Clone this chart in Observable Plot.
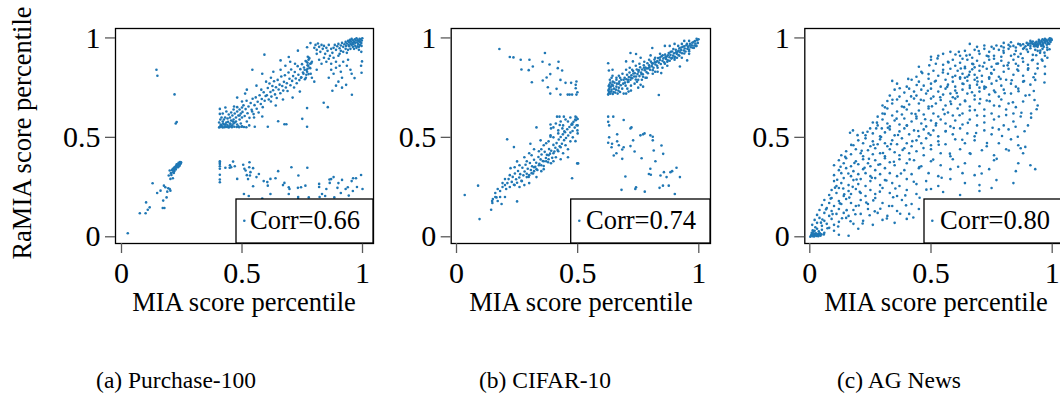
<!DOCTYPE html>
<html><head><meta charset="utf-8">
<script src="https://cdn.jsdelivr.net/npm/d3@7"></script>
<script src="https://cdn.jsdelivr.net/npm/@observablehq/plot@0.6"></script>
<style>
body{margin:0;background:#fff}
#wrap{position:relative;width:1060px;height:395px;overflow:hidden;background:#fff}
#wrap > div{position:absolute;top:0;height:395px}
#wrap svg{max-width:none !important}
#wrap text{font-family:"Liberation Serif","Times New Roman",serif}
</style></head><body><div id="wrap"></div>
<script>
// ---------- data ----------
const captions = ["(a) Purchase-100", "(b) CIFAR-10", "(c) AG News"];
const corrLabels = ["Corr=0.66", "Corr=0.74", "Corr=0.80"];
const xLabel = "MIA score percentile";
const yLabel = "RaMIA score percentile";
const tickValues = [0, 0.5, 1];
const tickLabels = ["0", "0.5", "1"];

// (a) Purchase-100 : [MIA percentile, RaMIA percentile]
const purchasePoints = [
[0.026,0.018],[0.076,0.118],[0.1,0.118],[0.102,0.173],[0.109,0.136],[0.117,0.148],[0.129,0.269],[0.148,0.22],[0.162,0.232],
[0.171,0.145],[0.178,0.145],[0.173,0.182],[0.187,0.198],[0.176,0.257],[0.182,0.249],[0.194,0.244],[0.2,0.24],[0.203,0.232],
[0.19,0.227],[0.2,0.333],[0.196,0.308],[0.207,0.311],[0.213,0.294],[0.203,0.291],[0.217,0.321],[0.205,0.32],
[0.21,0.335],[0.213,0.342],[0.216,0.338],[0.218,0.345],[0.22,0.35],[0.222,0.341],[0.224,0.352],[0.226,0.356],[0.228,0.348],
[0.23,0.36],[0.232,0.354],[0.234,0.362],[0.236,0.366],[0.238,0.358],[0.24,0.37],[0.242,0.364],[0.244,0.372],[0.246,0.368],
[0.247,0.375],[0.229,0.364],[0.237,0.372],[0.243,0.376],[0.219,0.33],[0.225,0.338],[0.235,0.35],[0.241,0.357],[0.215,0.325],
[0.145,0.84],[0.149,0.81],[0.22,0.716],[0.225,0.57],[0.229,0.577],
[0.408,0.38],[0.408,0.372],[0.408,0.366],[0.408,0.355],[0.408,0.342],[0.408,0.312],[0.408,0.288],[0.408,0.274],
[0.431,0.347],[0.449,0.347],[0.463,0.378],[0.455,0.35],[0.48,0.291],[0.505,0.362],[0.51,0.342],[0.515,0.333],[0.531,0.375],
[0.53,0.35],[0.535,0.325],[0.533,0.308],[0.546,0.345],[0.57,0.316],[0.508,0.215],[0.528,0.205],[0.546,0.254],[0.584,0.192],
[0.607,0.257],[0.605,0.275],[0.618,0.291],[0.639,0.294],[0.618,0.215],[0.676,0.271],[0.694,0.249],[0.697,0.24],[0.705,0.35],
[0.734,0.308],[0.771,0.347],[0.732,0.246],[0.745,0.249],[0.763,0.257],[0.694,0.215],[0.733,0.2],[0.733,0.19],[0.777,0.198],
[0.82,0.266],[0.832,0.215],[0.822,0.2],[0.845,0.205],[0.85,0.24],[0.863,0.288],[0.87,0.29],[0.88,0.3],[0.864,0.271],[0.883,0.198],
[0.896,0.246],[0.915,0.286],[0.939,0.249],[0.93,0.24],[0.943,0.207],[0.961,0.294],[0.973,0.294],[0.994,0.311],[1.0,0.24],[0.977,0.25],
[0.45,0.36],[0.47,0.355],[0.52,0.31],[0.525,0.29],[0.56,0.3],[0.59,0.28],[0.65,0.33],[0.67,0.26],[0.82,0.25],[0.9,0.27],[0.955,0.28],
[0.91,0.22],[0.96,0.23],
[0.405,0.55],[0.41,0.555],[0.415,0.56],[0.42,0.55],[0.425,0.565],[0.43,0.555],[0.435,0.575],[0.44,0.56],[0.445,0.55],[0.45,0.57],
[0.455,0.585],[0.46,0.56],[0.465,0.59],[0.47,0.575],[0.475,0.6],[0.48,0.565],[0.485,0.61],[0.49,0.59],[0.495,0.62],[0.5,0.6],
[0.405,0.575],[0.41,0.59],[0.415,0.6],[0.42,0.58],[0.43,0.6],[0.44,0.595],[0.45,0.6],[0.46,0.61],[0.47,0.62],[0.48,0.63],
[0.49,0.64],[0.5,0.65],[0.408,0.643],[0.408,0.618],[0.431,0.65],[0.467,0.655],[0.48,0.652],
[0.5,0.555],[0.52,0.58],[0.53,0.56],[0.55,0.6],[0.553,0.553],[0.542,0.63],[0.513,0.72],[0.543,0.84],[0.584,0.82],[0.593,0.916],
[0.42,0.62],[0.435,0.63],[0.455,0.625],[0.465,0.64],[0.475,0.58],[0.485,0.555],[0.495,0.57],[0.455,0.555],[0.465,0.57],[0.425,0.59],
[0.445,0.615],[0.49,0.61],
[0.41,0.552],[0.418,0.553],[0.428,0.551],[0.438,0.552],[0.448,0.556],[0.458,0.551],[0.468,0.553],[0.478,0.552],[0.488,0.551],
[0.498,0.553],[0.508,0.552],[0.518,0.551],[0.412,0.565],[0.422,0.57],[0.432,0.566],[0.442,0.578],[0.452,0.567],[0.462,0.58],
[0.502,0.628],[0.506,0.661],[0.511,0.607],[0.515,0.642],[0.519,0.684],[0.523,0.621],[0.527,0.655],[0.531,0.598],[0.536,0.673],
[0.54,0.639],[0.544,0.694],[0.548,0.617],[0.552,0.662],[0.557,0.701],[0.561,0.644],[0.565,0.679],[0.569,0.625],[0.573,0.712],
[0.578,0.668],[0.582,0.693],[0.586,0.652],[0.59,0.727],[0.594,0.684],[0.598,0.708],
[0.603,0.712],[0.607,0.748],[0.611,0.69],[0.614,0.771],[0.618,0.728],[0.622,0.705],[0.626,0.758],[0.629,0.737],[0.633,0.782],
[0.637,0.716],[0.641,0.752],[0.644,0.698],[0.648,0.789],[0.652,0.741],[0.656,0.765],[0.659,0.722],[0.663,0.806],[0.667,0.758],
[0.671,0.735],[0.674,0.779],[0.678,0.812],[0.682,0.751],[0.686,0.772],[0.689,0.733],[0.693,0.826],[0.697,0.795],[0.701,0.762],
[0.704,0.841],[0.708,0.784],[0.712,0.808],[0.716,0.751],[0.719,0.829],[0.723,0.796],[0.727,0.772],[0.731,0.858],[0.734,0.815],
[0.738,0.788],[0.742,0.843],[0.746,0.802],[0.749,0.868],[0.753,0.826],[0.757,0.851],[0.761,0.792],[0.764,0.884],[0.768,0.839],
[0.772,0.862],[0.776,0.818],[0.779,0.897],[0.783,0.848],[0.787,0.873],
[0.784,0.974],[0.77,0.953],[0.732,0.936],[0.66,0.887],[0.694,0.904],[0.607,0.553],[0.584,0.605],[0.65,0.581],[0.676,0.566],
[0.684,0.566],[0.75,0.593],[0.77,0.553],[0.77,0.647],[0.839,0.674],[0.856,0.652],[0.875,0.734],[0.915,0.75],[0.932,0.764],
[0.956,0.714],[0.967,0.798],[0.998,0.882],[0.994,0.86],[0.996,0.825],
[0.88,0.95],[0.885,0.965],[0.89,0.94],[0.895,0.958],[0.9,0.97],[0.905,0.948],[0.91,0.962],[0.915,0.975],[0.92,0.955],[0.925,0.968],
[0.93,0.98],[0.932,0.96],[0.935,0.972],[0.94,0.985],[0.942,0.965],[0.945,0.978],[0.948,0.99],[0.95,0.97],[0.952,0.982],[0.955,0.995],
[0.958,0.975],[0.96,0.988],[0.962,0.968],[0.965,0.98],[0.968,0.993],[0.97,0.975],[0.972,0.987],[0.975,0.998],[0.978,0.978],[0.98,0.99],
[0.982,0.97],[0.985,0.985],[0.988,0.996],[0.99,0.98],[0.992,0.992],[0.995,0.975],[0.997,0.987],[0.999,0.998],[0.96,0.955],[0.97,0.96],
[0.98,0.958],[0.99,0.965],[0.95,0.945],[0.94,0.94],[0.93,0.945],[0.92,0.93],[0.975,0.95],[0.985,0.955],[0.996,0.96],[0.945,0.958],
[0.955,0.965],[0.965,0.945],[0.91,0.935],[0.905,0.92],[0.935,0.925],[0.985,0.94],[0.995,0.93],
[0.8,0.95],[0.805,0.965],[0.81,0.94],[0.815,0.972],[0.82,0.955],[0.825,0.93],[0.83,0.965],[0.835,0.945],[0.84,0.96],[0.845,0.92],
[0.85,0.95],[0.855,0.935],[0.86,0.965],[0.865,0.91],[0.87,0.945],[0.875,0.925],[0.86,0.895],[0.85,0.88],[0.84,0.9],[0.83,0.87],
[0.82,0.89],[0.81,0.92],[0.87,0.87],[0.88,0.9],[0.89,0.88],[0.9,0.91],[0.89,0.85],[0.88,0.82],[0.87,0.84],[0.86,0.8],[0.905,0.86],
[0.91,0.83],[0.915,0.8],[0.935,0.86],[0.94,0.89],[0.95,0.84],[0.955,0.82],[0.92,0.88],[0.9,0.78],[0.89,0.76],[0.8,0.78],[0.79,0.8],
[0.81,0.84],
[0.765,0.8],[0.767,0.815],[0.77,0.83],[0.772,0.845],[0.775,0.86],[0.772,0.875],[0.776,0.89],[0.778,0.9],[0.773,0.905],[0.768,0.88],
[0.78,0.85],[0.783,0.87],[0.785,0.82],[0.79,0.88],[0.76,0.84],[0.755,0.82],[0.745,0.8],
[0.58,0.74],[0.6,0.78],[0.62,0.8],[0.63,0.83],[0.66,0.84],[0.68,0.86],[0.7,0.88],[0.72,0.87],[0.67,0.69],[0.71,0.7],[0.74,0.73],
[0.5,0.68],[0.48,0.7],[0.52,0.74],[0.56,0.76],[0.64,0.66],[0.62,0.68]
];

// (b) CIFAR-10
const cifarPoints = [
[0.177,0.944],[0.22,0.904],[0.235,0.902],[0.265,0.89],[0.301,0.89],[0.268,0.841],[0.298,0.838],[0.315,0.856],[0.365,0.924],
[0.355,0.88],[0.384,0.866],[0.421,0.88],[0.418,0.848],[0.436,0.836],[0.387,0.818],[0.372,0.801],[0.311,0.777],[0.356,0.786],
[0.429,0.789],[0.45,0.774],[0.473,0.774],[0.495,0.781],[0.492,0.764],[0.492,0.747],[0.377,0.752],[0.413,0.744],[0.387,0.72],
[0.429,0.715],[0.459,0.715],[0.467,0.715],[0.477,0.715],[0.495,0.715],[0.499,0.727],
[0.626,0.715],[0.628,0.72],[0.63,0.728],[0.627,0.735],[0.629,0.742],[0.632,0.75],[0.628,0.758],[0.631,0.765],[0.635,0.72],
[0.638,0.73],[0.64,0.74],[0.637,0.755],[0.642,0.765],[0.645,0.718],[0.648,0.728],[0.65,0.745],[0.646,0.76],[0.652,0.775],
[0.655,0.725],[0.658,0.74],[0.66,0.755],[0.662,0.77],[0.665,0.72],[0.668,0.735],[0.67,0.75],[0.672,0.78],[0.675,0.728],
[0.678,0.762],[0.68,0.79],[0.684,0.745],[0.688,0.77],[0.69,0.72],[0.694,0.8],[0.698,0.76],[0.626,0.873],[0.629,0.836],
[0.644,0.84],[0.644,0.81],[0.645,0.78],[0.633,0.79],[0.64,0.8],[0.635,0.775],[0.7,0.72],[0.71,0.73],[0.72,0.735],[0.705,0.745],
[0.701,0.792],[0.704,0.815],[0.707,0.778],[0.711,0.803],[0.714,0.826],[0.718,0.79],[0.722,0.812],[0.725,0.797],[0.729,0.834],
[0.733,0.806],[0.736,0.822],[0.74,0.791],[0.744,0.841],[0.747,0.818],[0.751,0.83],[0.755,0.808],[0.758,0.852],[0.762,0.826],
[0.766,0.841],[0.769,0.817],[0.773,0.862],[0.777,0.838],[0.78,0.851],[0.784,0.829],[0.788,0.873],[0.791,0.847],[0.795,0.862],
[0.799,0.84],[0.802,0.881],[0.806,0.858],[0.81,0.871],[0.813,0.85],[0.817,0.891],[0.821,0.866],[0.824,0.879],[0.828,0.86],
[0.832,0.899],[0.835,0.876],[0.839,0.889],[0.843,0.869],[0.846,0.908],[0.85,0.885],[0.854,0.897],[0.857,0.878],[0.861,0.916],
[0.865,0.894],[0.868,0.906],[0.872,0.887],[0.876,0.924],[0.879,0.903],[0.883,0.915],[0.887,0.896],[0.89,0.932],[0.894,0.911],
[0.898,0.923],[0.901,0.905],[0.905,0.94],[0.909,0.92],[0.912,0.931],[0.916,0.914],[0.92,0.948],[0.923,0.928],[0.927,0.939],
[0.931,0.923],[0.934,0.956],[0.938,0.937],[0.942,0.947],[0.945,0.932],[0.949,0.963],[0.953,0.945],[0.956,0.955],[0.96,0.941],
[0.964,0.971],[0.967,0.953],[0.971,0.963],[0.975,0.951],[0.978,0.979],[0.982,0.962],[0.986,0.972],[0.989,0.96],[0.993,0.988],
[0.996,0.975],[0.999,0.993],[0.991,0.996],[0.984,0.984],[0.973,0.976],[0.962,0.962],[0.951,0.97],[0.94,0.958],[0.928,0.952],
[0.917,0.936],[0.906,0.928],[0.895,0.944],[0.884,0.93],[0.873,0.913],[0.862,0.903],[0.851,0.913],[0.84,0.901],[0.829,0.884],
[0.818,0.877],[0.807,0.872],[0.796,0.853],[0.785,0.846],[0.774,0.85],[0.763,0.818],[0.752,0.838],[0.741,0.806],[0.73,0.821],
[0.719,0.801],[0.708,0.79],[0.86,0.87],[0.88,0.885],[0.9,0.899],[0.92,0.91],[0.94,0.922],[0.96,0.933],[0.98,0.95],[0.83,0.85],
[0.81,0.838],[0.79,0.822],[0.77,0.805],[0.75,0.79],
[0.66,0.79],[0.67,0.81],[0.675,0.8],[0.685,0.82],[0.69,0.79],[0.7,0.84],[0.71,0.78],[0.715,0.85],[0.72,0.76],[0.725,0.84],
[0.735,0.77],[0.74,0.86],[0.745,0.78],[0.755,0.87],[0.765,0.79],[0.775,0.88],[0.785,0.8],[0.795,0.89],[0.81,0.82],[0.82,0.9],
[0.83,0.83],[0.84,0.92],[0.85,0.85],[0.87,0.88],[0.89,0.9],[0.91,0.9],[0.915,0.96],[0.93,0.97],[0.96,0.985],[0.67,0.77],
[0.695,0.775],[0.66,0.8],
[0.718,0.924],[0.741,0.919],[0.7,0.882],[0.728,0.882],[0.808,0.949],[0.801,0.912],[0.835,0.713],[0.922,0.856],[0.952,0.887],
[0.845,0.823],[0.76,0.764],[0.77,0.755],[0.75,0.75],[0.82,0.83],[0.87,0.86],[0.9,0.89],[0.96,0.92],[0.99,0.96],[0.93,0.9],
[0.78,0.8],[0.86,0.96],[0.9,0.97],[0.88,0.96],[0.94,0.985],[0.76,0.9],
[0.034,0.21],[0.089,0.257],[0.095,0.089],[0.143,0.136],[0.147,0.18],[0.148,0.17],[0.15,0.19],[0.165,0.198],[0.186,0.165],
[0.16,0.22],[0.17,0.24],[0.18,0.23],[0.19,0.25],[0.2,0.26],[0.205,0.24],[0.21,0.27],[0.215,0.29],[0.22,0.25],[0.223,0.345],
[0.209,0.49],[0.237,0.451],[0.25,0.379],[0.25,0.178],
[0.228,0.276],[0.232,0.301],[0.237,0.262],[0.241,0.318],[0.246,0.289],[0.25,0.272],[0.254,0.331],[0.259,0.298],[0.263,0.315],
[0.268,0.281],[0.272,0.347],[0.276,0.309],[0.281,0.328],[0.285,0.362],[0.29,0.317],[0.294,0.342],[0.298,0.301],[0.303,0.371],
[0.307,0.336],[0.312,0.355],[0.316,0.318],[0.32,0.387],[0.325,0.352],[0.329,0.372],[0.334,0.336],[0.338,0.401],[0.342,0.367],
[0.347,0.389],[0.351,0.414],[0.356,0.381],[0.36,0.356],[0.364,0.427],[0.369,0.396],[0.373,0.412],[0.378,0.375],[0.382,0.441],
[0.386,0.418],[0.391,0.433],[0.395,0.397],[0.4,0.462],[0.404,0.429],[0.408,0.448],[0.413,0.471],[0.417,0.437],[0.422,0.489],
[0.426,0.455],[0.43,0.502],[0.435,0.468],[0.439,0.515],[0.444,0.486],[0.448,0.526],[0.452,0.497],[0.457,0.541],[0.461,0.509],
[0.466,0.552],[0.47,0.524],[0.474,0.563],[0.479,0.532],[0.483,0.578],[0.488,0.549],[0.492,0.586],[0.496,0.561],[0.5,0.592],[0.499,0.535],
[0.305,0.468],[0.347,0.485],[0.388,0.51],[0.477,0.294],[0.498,0.369],[0.502,0.369],[0.491,0.481],[0.415,0.604],[0.425,0.604],
[0.443,0.604],[0.491,0.604],[0.495,0.6],[0.49,0.59],[0.477,0.57],[0.478,0.565],[0.388,0.565],[0.39,0.545],[0.33,0.55],[0.426,0.562],
[0.437,0.545],[0.445,0.53],[0.42,0.535],[0.388,0.503],[0.28,0.4],[0.3,0.42],[0.32,0.44],[0.29,0.3],[0.31,0.32],[0.33,0.34],
[0.35,0.36],[0.37,0.38],[0.36,0.46],[0.38,0.48],[0.4,0.5],[0.42,0.52],[0.44,0.56],[0.46,0.58],[0.26,0.36],[0.27,0.28],[0.22,0.31],
[0.2,0.2],[0.18,0.2],[0.24,0.26],[0.3,0.27],[0.32,0.33],[0.34,0.43],[0.36,0.38],[0.38,0.41],[0.4,0.42],[0.41,0.4],[0.43,0.45],
[0.45,0.46],[0.47,0.48],[0.44,0.42],[0.46,0.44],[0.48,0.5],[0.5,0.52],[0.5,0.56],[0.26,0.25],[0.28,0.26],[0.33,0.3],[0.35,0.33],
[0.36,0.34],[0.39,0.37],[0.43,0.39],[0.46,0.4],[0.29,0.38],[0.31,0.41],[0.35,0.44],[0.37,0.47],[0.4,0.38],[0.42,0.43],[0.2,0.29],
[0.19,0.27],[0.16,0.2],[0.17,0.18],[0.24,0.35],[0.4,0.55],[0.41,0.57],[0.43,0.58],[0.45,0.59],[0.47,0.6],[0.34,0.36],[0.38,0.39],
[0.3,0.31],[0.32,0.35],
[0.626,0.604],[0.647,0.604],[0.626,0.578],[0.63,0.56],[0.69,0.587],[0.663,0.515],[0.718,0.545],[0.722,0.55],[0.77,0.515],[0.776,0.52],
[0.81,0.503],[0.626,0.473],[0.642,0.468],[0.663,0.48],[0.67,0.46],[0.684,0.439],[0.649,0.409],[0.684,0.392],[0.69,0.45],[0.718,0.456],
[0.729,0.485],[0.735,0.429],[0.764,0.395],[0.759,0.51],[0.8,0.51],[0.81,0.485],[0.814,0.434],[0.846,0.459],[0.853,0.417],[0.821,0.38],
[0.8,0.342],[0.794,0.316],[0.802,0.312],[0.842,0.308],[0.856,0.325],[0.883,0.325],[0.89,0.33],[0.908,0.347],[0.867,0.3],[0.876,0.257],
[0.922,0.3],[0.852,0.257],[0.838,0.246],[0.901,0.215],[0.777,0.227],[0.741,0.249],[0.738,0.24],[0.697,0.303],[0.681,0.236],
[0.63,0.5],[0.64,0.45],[0.66,0.42]
];

// (c) AG News
const agnewsPoints = [
[0.75,0.955],[0.77,0.962],[0.79,0.958],[0.8,0.952],[0.82,0.965],[0.84,0.96],[0.85,0.952],[0.86,0.97],[0.87,0.962],[0.88,0.968],
[0.89,0.958],[0.895,0.975],[0.9,0.965],[0.905,0.972],[0.91,0.96],[0.915,0.978],[0.92,0.97],[0.925,0.965],[0.93,0.975],[0.932,0.968],
[0.935,0.98],[0.94,0.972],[0.942,0.965],[0.945,0.982],[0.95,0.975],[0.952,0.968],[0.955,0.985],[0.96,0.978],[0.962,0.97],[0.965,0.988],
[0.97,0.98],[0.972,0.974],[0.975,0.99],[0.98,0.984],[0.982,0.976],[0.985,0.992],[0.99,0.986],[0.993,0.98],[0.996,0.995],[0.998,0.99],
[0.91,0.985],[0.925,0.958],[0.955,0.96],[0.965,0.955],[0.94,0.955],[0.885,0.95],[0.96,0.993],[0.945,0.99],[0.935,0.96],[0.92,0.982],
[0.978,0.966],[0.988,0.97],[0.97,0.995],[0.99,0.998],[0.72,0.962],[0.69,0.955],[0.66,0.97],[0.8,0.975],[0.83,0.978],
[0.5,0.905],[0.53,0.91],[0.55,0.92],[0.58,0.93],[0.615,0.93],[0.64,0.935],[0.66,0.915],[0.68,0.94],[0.7,0.92],[0.72,0.945],
[0.74,0.93],[0.76,0.91],[0.78,0.94],[0.8,0.925],[0.82,0.945],[0.83,0.91],[0.85,0.935],[0.87,0.92],[0.88,0.945],[0.9,0.93],
[0.92,0.915],[0.93,0.94],[0.95,0.925],[0.96,0.945],[0.97,0.91],[0.86,0.905],[0.79,0.905],[0.73,0.91],[0.67,0.9],[0.62,0.91],
[0.91,0.948],[0.94,0.935],[0.98,0.94],
[0.45,0.855],[0.5,0.89],[0.52,0.87],[0.55,0.865],[0.57,0.88],[0.59,0.89],[0.6,0.86],[0.62,0.875],[0.64,0.855],[0.65,0.89],
[0.67,0.87],[0.69,0.885],[0.7,0.86],[0.72,0.875],[0.74,0.89],[0.75,0.855],[0.77,0.87],[0.79,0.885],[0.8,0.86],[0.82,0.875],
[0.84,0.89],[0.86,0.86],[0.88,0.88],[0.9,0.865],[0.92,0.89],[0.94,0.87],[0.96,0.885],[0.97,0.856],[0.98,0.9],[0.63,0.895],
[0.68,0.852],[0.76,0.895],[0.85,0.87],
[0.44,0.805],[0.46,0.83],[0.49,0.818],[0.51,0.835],[0.53,0.81],[0.55,0.84],[0.57,0.82],[0.58,0.845],[0.6,0.81],[0.61,0.835],
[0.63,0.82],[0.64,0.848],[0.65,0.805],[0.66,0.83],[0.67,0.842],[0.68,0.815],[0.7,0.835],[0.71,0.81],[0.73,0.845],[0.75,0.82],
[0.76,0.84],[0.78,0.805],[0.8,0.83],[0.82,0.845],[0.84,0.815],[0.86,0.835],[0.88,0.81],[0.9,0.84],[0.93,0.82],[0.97,0.819],
[0.62,0.802],[0.69,0.8],[0.74,0.802],
[0.34,0.784],[0.36,0.77],[0.4,0.755],[0.42,0.79],[0.45,0.78],[0.47,0.76],[0.49,0.795],[0.5,0.77],[0.52,0.785],[0.54,0.755],
[0.56,0.79],[0.57,0.765],[0.59,0.78],[0.6,0.755],[0.62,0.795],[0.63,0.77],[0.65,0.785],[0.66,0.76],[0.68,0.79],[0.69,0.765],
[0.71,0.78],[0.72,0.755],[0.74,0.795],[0.75,0.77],[0.77,0.785],[0.79,0.76],[0.81,0.79],[0.83,0.77],[0.85,0.755],[0.88,0.78],
[0.91,0.765],[0.93,0.789],[0.968,0.776],[0.64,0.8],[0.7,0.75],
[0.33,0.71],[0.35,0.74],[0.37,0.705],[0.39,0.725],[0.41,0.745],[0.43,0.73],[0.44,0.71],[0.46,0.74],[0.48,0.72],[0.5,0.745],
[0.51,0.705],[0.53,0.73],[0.55,0.715],[0.56,0.745],[0.58,0.72],[0.6,0.735],[0.61,0.705],[0.63,0.74],[0.65,0.72],[0.66,0.748],
[0.68,0.71],[0.7,0.73],[0.72,0.745],[0.74,0.715],[0.76,0.735],[0.78,0.705],[0.8,0.74],[0.83,0.72],[0.86,0.745],[0.89,0.71],
[0.924,0.733],[0.59,0.702],
[0.3,0.66],[0.31,0.651],[0.32,0.683],[0.34,0.67],[0.36,0.69],[0.38,0.655],[0.4,0.683],[0.41,0.665],[0.43,0.695],[0.45,0.67],
[0.47,0.685],[0.49,0.655],[0.5,0.695],[0.52,0.67],[0.54,0.688],[0.56,0.66],[0.58,0.68],[0.6,0.695],[0.62,0.665],[0.64,0.685],
[0.66,0.655],[0.68,0.69],[0.7,0.67],[0.73,0.685],[0.76,0.66],[0.79,0.69],[0.82,0.67],[0.85,0.652],[0.88,0.68],[0.927,0.688],
[0.94,0.66],
[0.28,0.604],[0.3,0.62],[0.32,0.645],[0.34,0.61],[0.36,0.63],[0.38,0.615],[0.4,0.64],[0.42,0.62],[0.44,0.605],[0.45,0.635],
[0.47,0.615],[0.49,0.645],[0.51,0.62],[0.53,0.605],[0.55,0.64],[0.57,0.625],[0.59,0.61],[0.61,0.645],[0.63,0.62],[0.66,0.635],
[0.69,0.61],[0.72,0.64],[0.75,0.62],[0.78,0.605],[0.81,0.64],[0.84,0.62],[0.87,0.605],[0.936,0.641],[0.913,0.62],
[0.26,0.575],[0.28,0.56],[0.3,0.59],[0.32,0.57],[0.33,0.555],[0.35,0.585],[0.37,0.565],[0.39,0.595],[0.4,0.56],[0.42,0.58],
[0.44,0.595],[0.46,0.57],[0.48,0.555],[0.5,0.585],[0.52,0.56],[0.54,0.59],[0.56,0.57],[0.58,0.555],[0.6,0.585],[0.63,0.565],
[0.66,0.59],[0.69,0.56],[0.72,0.575],[0.76,0.59],[0.8,0.56],[0.84,0.58],[0.913,0.599],[0.9,0.56],
[0.166,0.523],[0.178,0.535],[0.219,0.523],[0.23,0.51],[0.249,0.545],[0.26,0.52],[0.274,0.545],[0.29,0.505],[0.297,0.545],[0.31,0.525],
[0.33,0.54],[0.35,0.51],[0.37,0.53],[0.39,0.545],[0.41,0.515],[0.43,0.535],[0.45,0.505],[0.47,0.54],[0.49,0.52],[0.51,0.535],
[0.53,0.505],[0.56,0.53],[0.59,0.515],[0.62,0.545],[0.65,0.52],[0.68,0.505],[0.72,0.535],[0.75,0.515],[0.78,0.54],[0.82,0.54],
[0.858,0.503],[0.886,0.531],
[0.18,0.46],[0.2,0.485],[0.22,0.47],[0.23,0.495],[0.25,0.455],[0.26,0.48],[0.28,0.465],[0.29,0.49],[0.31,0.47],[0.32,0.455],
[0.34,0.485],[0.36,0.465],[0.38,0.495],[0.4,0.47],[0.42,0.455],[0.44,0.485],[0.46,0.47],[0.48,0.495],[0.5,0.46],[0.53,0.48],
[0.56,0.465],[0.6,0.49],[0.64,0.47],[0.68,0.485],[0.73,0.455],[0.78,0.47],[0.83,0.49],[0.86,0.46],
[0.13,0.41],[0.15,0.43],[0.17,0.415],[0.19,0.44],[0.21,0.42],[0.22,0.405],[0.24,0.435],[0.26,0.415],[0.27,0.445],[0.29,0.42],
[0.31,0.405],[0.33,0.44],[0.35,0.425],[0.37,0.41],[0.39,0.445],[0.41,0.42],[0.44,0.43],[0.47,0.41],[0.5,0.44],[0.54,0.42],
[0.58,0.405],[0.62,0.44],[0.66,0.42],[0.71,0.435],[0.76,0.41],[0.81,0.44],[0.88,0.42],[0.87,0.445],
[0.1,0.36],[0.12,0.385],[0.14,0.37],[0.15,0.395],[0.17,0.355],[0.19,0.38],[0.2,0.365],[0.22,0.39],[0.24,0.37],[0.25,0.355],
[0.27,0.385],[0.29,0.365],[0.31,0.395],[0.33,0.375],[0.35,0.36],[0.37,0.39],[0.4,0.37],[0.43,0.385],[0.46,0.355],[0.5,0.38],
[0.54,0.36],[0.59,0.39],[0.64,0.37],[0.7,0.355],[0.76,0.385],[0.86,0.37],[0.91,0.36],
[0.1,0.31],[0.12,0.335],[0.13,0.32],[0.15,0.345],[0.17,0.305],[0.18,0.33],[0.2,0.315],[0.22,0.34],[0.23,0.32],[0.25,0.305],
[0.27,0.335],[0.29,0.315],[0.31,0.345],[0.33,0.32],[0.36,0.305],[0.39,0.335],[0.42,0.315],[0.45,0.345],[0.49,0.32],[0.53,0.305],
[0.58,0.34],[0.63,0.32],[0.68,0.31],[0.74,0.34],[0.85,0.33],[0.93,0.34],
[0.1,0.28],[0.11,0.255],[0.13,0.27],[0.14,0.295],[0.16,0.26],[0.18,0.285],[0.2,0.265],[0.21,0.29],[0.23,0.255],[0.25,0.28],
[0.27,0.295],[0.29,0.26],[0.31,0.285],[0.34,0.27],[0.37,0.255],[0.4,0.29],[0.44,0.265],[0.48,0.28],[0.53,0.255],[0.58,0.29],
[0.64,0.27],[0.7,0.26],[0.77,0.285],[0.84,0.27],
[0.08,0.21],[0.09,0.235],[0.11,0.22],[0.12,0.245],[0.14,0.205],[0.16,0.23],[0.17,0.215],[0.19,0.24],[0.21,0.22],[0.23,0.205],
[0.25,0.235],[0.27,0.215],[0.3,0.245],[0.33,0.22],[0.36,0.205],[0.4,0.235],[0.44,0.215],[0.5,0.24],[0.55,0.225],[0.62,0.21],
[0.7,0.23],[0.75,0.245],
[0.05,0.16],[0.06,0.185],[0.08,0.17],[0.09,0.195],[0.1,0.155],[0.12,0.18],[0.13,0.165],[0.15,0.19],[0.17,0.17],[0.19,0.155],
[0.21,0.185],[0.24,0.165],[0.27,0.195],[0.3,0.17],[0.34,0.155],[0.38,0.185],[0.42,0.165],[0.48,0.18],
[0.03,0.11],[0.04,0.135],[0.06,0.12],[0.07,0.145],[0.08,0.105],[0.09,0.13],[0.11,0.115],[0.12,0.14],[0.14,0.12],[0.16,0.105],
[0.18,0.135],[0.21,0.115],[0.24,0.14],[0.28,0.12],[0.32,0.105],[0.36,0.13],[0.41,0.115],[0.45,0.14],
[0.01,0.06],[0.02,0.085],[0.03,0.07],[0.04,0.095],[0.05,0.055],[0.06,0.08],[0.07,0.065],[0.09,0.09],[0.1,0.06],[0.12,0.075],
[0.15,0.095],[0.18,0.065],[0.22,0.08],[0.26,0.06],[0.3,0.085],[0.35,0.07],[0.4,0.09],
[0.005,0.005],[0.01,0.012],[0.012,0.003],[0.015,0.008],[0.018,0.015],[0.02,0.005],[0.022,0.01],[0.025,0.018],[0.028,0.004],
[0.03,0.012],[0.033,0.007],[0.036,0.015],[0.04,0.01],[0.044,0.005],[0.048,0.012],[0.008,0.02],[0.015,0.025],[0.02,0.03],
[0.03,0.04],[0.05,0.035],[0.06,0.02],[0.08,0.045],[0.1,0.03],[0.12,0.01],[0.16,0.005],[0.2,0.04],[0.002,0.0],
[0.113,0.287],[0.127,0.352],[0.138,0.243],[0.146,0.402],[0.159,0.318],[0.163,0.197],[0.171,0.462],[0.184,0.371],[0.193,0.288],
[0.197,0.511],[0.206,0.226],[0.214,0.433],[0.226,0.347],[0.233,0.172],[0.238,0.528],[0.244,0.392],[0.256,0.297],[0.263,0.463],
[0.268,0.128],[0.277,0.574],[0.283,0.362],[0.289,0.227],[0.294,0.502],[0.302,0.421],[0.309,0.618],[0.316,0.283],[0.322,0.548],
[0.327,0.155],[0.335,0.466],[0.341,0.689],[0.347,0.377],[0.353,0.243],[0.358,0.594],[0.364,0.512],[0.371,0.747],[0.376,0.318],
[0.383,0.437],[0.389,0.652],[0.394,0.208],[0.401,0.559],[0.406,0.794],[0.412,0.389],[0.418,0.706],[0.423,0.481],[0.429,0.277],
[0.436,0.617],[0.441,0.763],[0.447,0.532],[0.452,0.351],[0.458,0.689],[0.464,0.823],[0.469,0.446],[0.476,0.591],[0.481,0.237],
[0.487,0.734],[0.493,0.862],[0.498,0.512],[0.504,0.656],[0.509,0.388],[0.516,0.781],[0.521,0.571],[0.527,0.897],[0.532,0.463],
[0.538,0.702],[0.544,0.297],[0.549,0.826],[0.556,0.617],[0.561,0.532],[0.567,0.754],[0.572,0.877],[0.578,0.418],[0.583,0.668],
[0.589,0.803],[0.594,0.547],[0.601,0.917],[0.606,0.723],[0.612,0.352],[0.618,0.611],[0.623,0.846],[0.629,0.488],[0.634,0.768],
[0.641,0.682],[0.646,0.911],[0.652,0.573],[0.657,0.814],[0.663,0.417],[0.669,0.727],[0.674,0.868],[0.681,0.637],[0.686,0.522],
[0.692,0.781],[0.697,0.934],[0.703,0.693],[0.709,0.318],[0.714,0.856],[0.72,0.607],[0.726,0.752],[0.731,0.471],[0.737,0.907],
[0.742,0.682],[0.748,0.823],[0.754,0.548],[0.759,0.946],[0.765,0.727],[0.771,0.392],[0.776,0.871],[0.782,0.657],[0.787,0.794],
[0.793,0.507],[0.799,0.935],[0.804,0.722],[0.81,0.612],[0.816,0.862],[0.821,0.434],[0.827,0.957],[0.833,0.787],[0.838,0.676],
[0.844,0.918],[0.849,0.553],[0.856,0.841],[0.861,0.732],[0.867,0.968],[0.873,0.624],[0.878,0.898],[0.884,0.783],[0.889,0.452],
[0.895,0.942],[0.901,0.847],[0.906,0.713],[0.912,0.972],[0.917,0.888],[0.923,0.802],[0.929,0.958],[0.934,0.913],[0.94,0.847],
[0.946,0.981],[0.951,0.936],[0.957,0.891],[0.962,0.962],[0.968,0.926],[0.973,0.985],[0.979,0.952],[0.984,0.971],[0.989,0.943],
[0.994,0.988],
[0.052,0.087],[0.067,0.138],[0.073,0.043],[0.086,0.192],[0.094,0.114],[0.104,0.247],[0.117,0.052],[0.124,0.168],[0.133,0.093],
[0.142,0.214],[0.152,0.134],[0.168,0.078],[0.177,0.251],[0.188,0.113],[0.202,0.157],[0.218,0.067],[0.247,0.108],[0.262,0.183],
[0.291,0.141],[0.318,0.092],[0.344,0.199],[0.373,0.116],[0.397,0.158],[0.427,0.097],[0.453,0.196],[0.012,0.032],[0.023,0.048],
[0.037,0.027],[0.046,0.071],[0.058,0.012],[0.018,0.002],[0.026,0.009],[0.035,0.003],[0.042,0.017],[0.007,0.011]
];

// ---------- drawing ----------
const serif = '"Liberation Serif", "Times New Roman", serif';
const blue = "#1f77b4";
const wrap = document.getElementById("wrap");

const panels = [
  {pts: purchasePoints, left: 0,   width: 380, ml: 115,  mr: 7,  xdom: [-0.0249, 1.0456]},
  {pts: cifarPoints,    left: 380, width: 340, ml: 70.7, mr: 10, xdom: [-0.0219, 1.0483]},
  {pts: agnewsPoints,   left: 720, width: 350, ml: 84.3, mr: 7,  xdom: [-0.0206, 1.0466]}
];

panels.forEach(p => {
  const chart = Plot.plot({
    width: p.width, height: 395,
    marginLeft: p.ml, marginRight: p.mr, marginTop: 28, marginBottom: 152,
    x: {domain: p.xdom, label: null},
    y: {domain: [-0.0338, 1.0474], label: null},
    style: {background: "transparent", overflow: "visible", maxWidth: "none", fontFamily: serif, fontSize: "30px", color: "black"},
    marks: [
      Plot.dot(p.pts, {x: d => d[0], y: d => d[1], r: 1.3, fill: blue}),
      Plot.frame({stroke: "black", strokeWidth: 1.3}),
      Plot.axisX({ticks: tickValues, tickFormat: d => tickLabels[tickValues.indexOf(d)], tickSize: 10, tickPadding: 8,
                  stroke: "#5a5a5a", strokeWidth: 1.3, fill: "black", label: null}),
      Plot.axisY({ticks: tickValues, tickFormat: d => tickLabels[tickValues.indexOf(d)], tickSize: 10, tickPadding: 5,
                  stroke: "#5a5a5a", strokeWidth: 1.3, fill: "black", label: null})
    ]
  });
  const holder = document.createElement("div");
  holder.style.left = p.left + "px";
  holder.style.width = p.width + "px";
  holder.appendChild(chart);
  wrap.appendChild(holder);
});

// overlay: legends, axis labels, captions
const svg = d3.create("svg").attr("width", 1060).attr("height", 395)
  .style("position", "absolute").style("left", "0px").style("top", "0px")
  .style("font-family", serif);

const legendBoxes = [
  {x: 236, w: 137, dot: 244.3, tx: 250},
  {x: 570.7, w: 139.3, dot: 579.3, tx: 586},
  {x: 924, w: 150, dot: 932.3, tx: 940}
];
legendBoxes.forEach((b, i) => {
  svg.append("rect").attr("x", b.x).attr("y", 199).attr("width", b.w).attr("height", 44)
    .attr("fill", "white").attr("stroke", "black").attr("stroke-width", 1.3);
  svg.append("circle").attr("cx", b.dot).attr("cy", 220.7).attr("r", 1.3).attr("fill", blue);
  svg.append("text").attr("x", b.tx).attr("y", 228.5).attr("font-size", 26.5).text(corrLabels[i]);
});

[244, 581, 936].forEach(cx => {
  svg.append("text").attr("x", cx).attr("y", 311).attr("text-anchor", "middle").attr("font-size", 26.5).text(xLabel);
});
[176, 545, 899].forEach((cx, i) => {
  svg.append("text").attr("x", cx).attr("y", 388).attr("text-anchor", "middle").attr("font-size", 23.5).text(captions[i]);
});
svg.append("text").attr("transform", "translate(31,133) rotate(-90)").attr("text-anchor", "middle")
  .attr("font-size", 26.5).text(yLabel);

wrap.appendChild(svg.node());
</script></body></html>
